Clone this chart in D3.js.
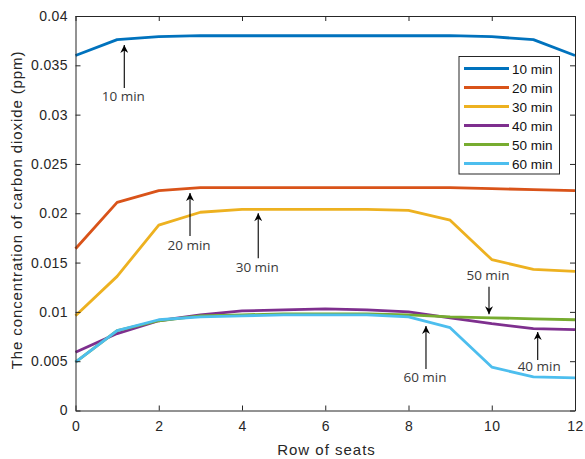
<!DOCTYPE html>
<html><head><meta charset="utf-8">
<script src="https://cdn.jsdelivr.net/npm/d3@7"></script>
<style>body{margin:0;background:#fff}</style>
</head><body><svg id="c" width="585" height="459"></svg>
<script>
const rows = [0,1,2,3,4,5,6,7,8,9,10,11,12];
const seriesNames = ["10 min","20 min","30 min","40 min","50 min","60 min"];
const colors = ["#0072BD","#D95319","#EDB120","#7E2F8E","#77AC30","#4DBEEE"];
const v10 = [0.0360,0.0376,0.0379,0.0380,0.0380,0.0380,0.0380,0.0380,0.0380,0.0380,0.0379,0.0376,0.0360];
const v20 = [0.0164,0.0211,0.0223,0.0226,0.0226,0.0226,0.0226,0.0226,0.0226,0.0226,0.0225,0.0224,0.0223];
const v30 = [0.0096,0.0136,0.0188,0.0201,0.0204,0.0204,0.0204,0.0204,0.0203,0.0193,0.0153,0.0143,0.0141];
const v40 = [0.0059,0.0078,0.0091,0.0097,0.0101,0.0102,0.0103,0.0102,0.0100,0.0094,0.0088,0.0083,0.0082];
const v50 = [0.0049,0.0081,0.0091,0.0096,0.0097,0.0098,0.0098,0.0098,0.0097,0.0095,0.0094,0.0093,0.0092];
const v60 = [0.0049,0.0081,0.0092,0.0095,0.0096,0.0097,0.0097,0.0097,0.0095,0.0084,0.0044,0.0034,0.0033];
const allValues = [v10,v20,v30,v40,v50,v60];
const xTicks = [0,2,4,6,8,10,12];
const yTicks = [0,0.005,0.01,0.015,0.02,0.025,0.03,0.035,0.04];
const yTickLabels = ["0","0.005","0.01","0.015","0.02","0.025","0.03","0.035","0.04"];
// arrow annotations: x position, tip value, tail value, label
const annotations = [
  {label:"10 min", x:1.172, tip:0.03706, tail:0.0327},
  {label:"20 min", x:2.751, tip:0.02205, tail:0.01769},
  {label:"30 min", x:4.39,  tip:0.0200,  tail:0.01543},
  {label:"50 min", x:9.934, tip:0.00975, tail:0.01255},
  {label:"60 min", x:8.42,  tip:0.00857, tail:0.00421},
  {label:"40 min", x:11.104,tip:0.00796, tail:0.00512}
];

const L=75.5, R=575, T=16, B=410.5;
const svg = d3.select("#c");
const x = d3.scaleLinear().domain([0,12]).range([L,R]);
const y = d3.scaleLinear().domain([0,0.04]).range([B,T]);
const font = "'Liberation Sans', Arial, sans-serif";
const tc = "#262626";

// lines
const line = d3.line().x((d,i)=>x(rows[i])).y(d=>y(d));
allValues.forEach((vals,k)=>{
  svg.append("path").attr("d",line(vals)).attr("fill","none")
    .attr("stroke",colors[k]).attr("stroke-width",2.8).attr("stroke-linejoin","round");
});

// axes
const xAx = svg.append("g").attr("transform",`translate(0,${B})`)
  .call(d3.axisBottom(x).tickValues(xTicks).tickSize(-5).tickPadding(11).tickSizeOuter(0));
const xAxT = svg.append("g").attr("transform",`translate(0,${T})`)
  .call(d3.axisTop(x).tickValues(xTicks).tickSize(-5).tickFormat("").tickSizeOuter(0));
const yAx = svg.append("g").attr("transform",`translate(${L},0)`)
  .call(d3.axisLeft(y).tickValues(yTicks).tickSize(-5).tickPadding(7.5).tickSizeOuter(0)
    .tickFormat((d,i)=>yTickLabels[i]));
const yAxR = svg.append("g").attr("transform",`translate(${R},0)`)
  .call(d3.axisRight(y).tickValues(yTicks).tickSize(-5).tickFormat("").tickSizeOuter(0));
[xAx,xAxT,yAx,yAxR].forEach(g=>{
  g.selectAll("path").attr("stroke",tc).attr("stroke-width",1);
  g.selectAll("line").attr("stroke",tc);
  g.selectAll("text").attr("font-family",font).attr("font-size",14).attr("letter-spacing",0.4).attr("fill",tc);
});

// axis labels
svg.append("text").attr("x",326.5).attr("y",455).attr("text-anchor","middle")
  .attr("font-family",font).attr("font-size",15).attr("letter-spacing",1).attr("fill",tc).text("Row of seats");
svg.append("text").attr("transform",`translate(21.5,210) rotate(-90)`).attr("text-anchor","middle")
  .attr("font-family",font).attr("font-size",15).attr("letter-spacing",0.9).attr("fill",tc)
  .text("The concentration of carbon dioxide (ppm)");

// annotations
const defs = svg.append("defs");
defs.append("marker").attr("id","ah").attr("viewBox","0 0 10 10").attr("refX",10).attr("refY",5)
  .attr("markerWidth",9).attr("markerHeight",8).attr("markerUnits","userSpaceOnUse").attr("orient","auto")
  .append("path").attr("d","M0,0 L10,5 L0,10 L3,5 Z").attr("fill","#000");
const afont = "'Open Sans', 'Noto Sans', sans-serif";
annotations.forEach(a=>{
  const px = x(a.x), y1 = y(a.tip), y0 = y(a.tail);
  svg.append("line").attr("x1",px).attr("x2",px).attr("y1",y0).attr("y2",y1)
    .attr("stroke","#000").attr("stroke-width",1.1).attr("marker-end","url(#ah)");
  const up = a.tip > a.tail;
  const ty = up ? y0 + (a.label==="40 min" ? 11 : 13.5) : y0 - 6.5;
  svg.append("text").attr("x",px + (a.label==="40 min" ? 1.5 : -1)).attr("y",ty).attr("text-anchor","middle")
    .attr("font-family",afont).attr("font-size",13.5).attr("fill","#3a3a3a").text(a.label);
});

// legend
const lg = svg.append("g");
lg.append("rect").attr("x",459).attr("y",56.5).attr("width",100.5).attr("height",117.5)
  .attr("fill","#fff").attr("stroke",tc).attr("stroke-width",1);
seriesNames.forEach((n,i)=>{
  const yy = 68.5 + i*19;
  lg.append("line").attr("x1",464).attr("x2",509).attr("y1",yy).attr("y2",yy)
    .attr("stroke",colors[i]).attr("stroke-width",2.8);
  lg.append("text").attr("x",512).attr("y",yy+5).attr("font-family",font).attr("font-size",13.5)
    .attr("fill","#111").text(n);
});
</script></body></html>
